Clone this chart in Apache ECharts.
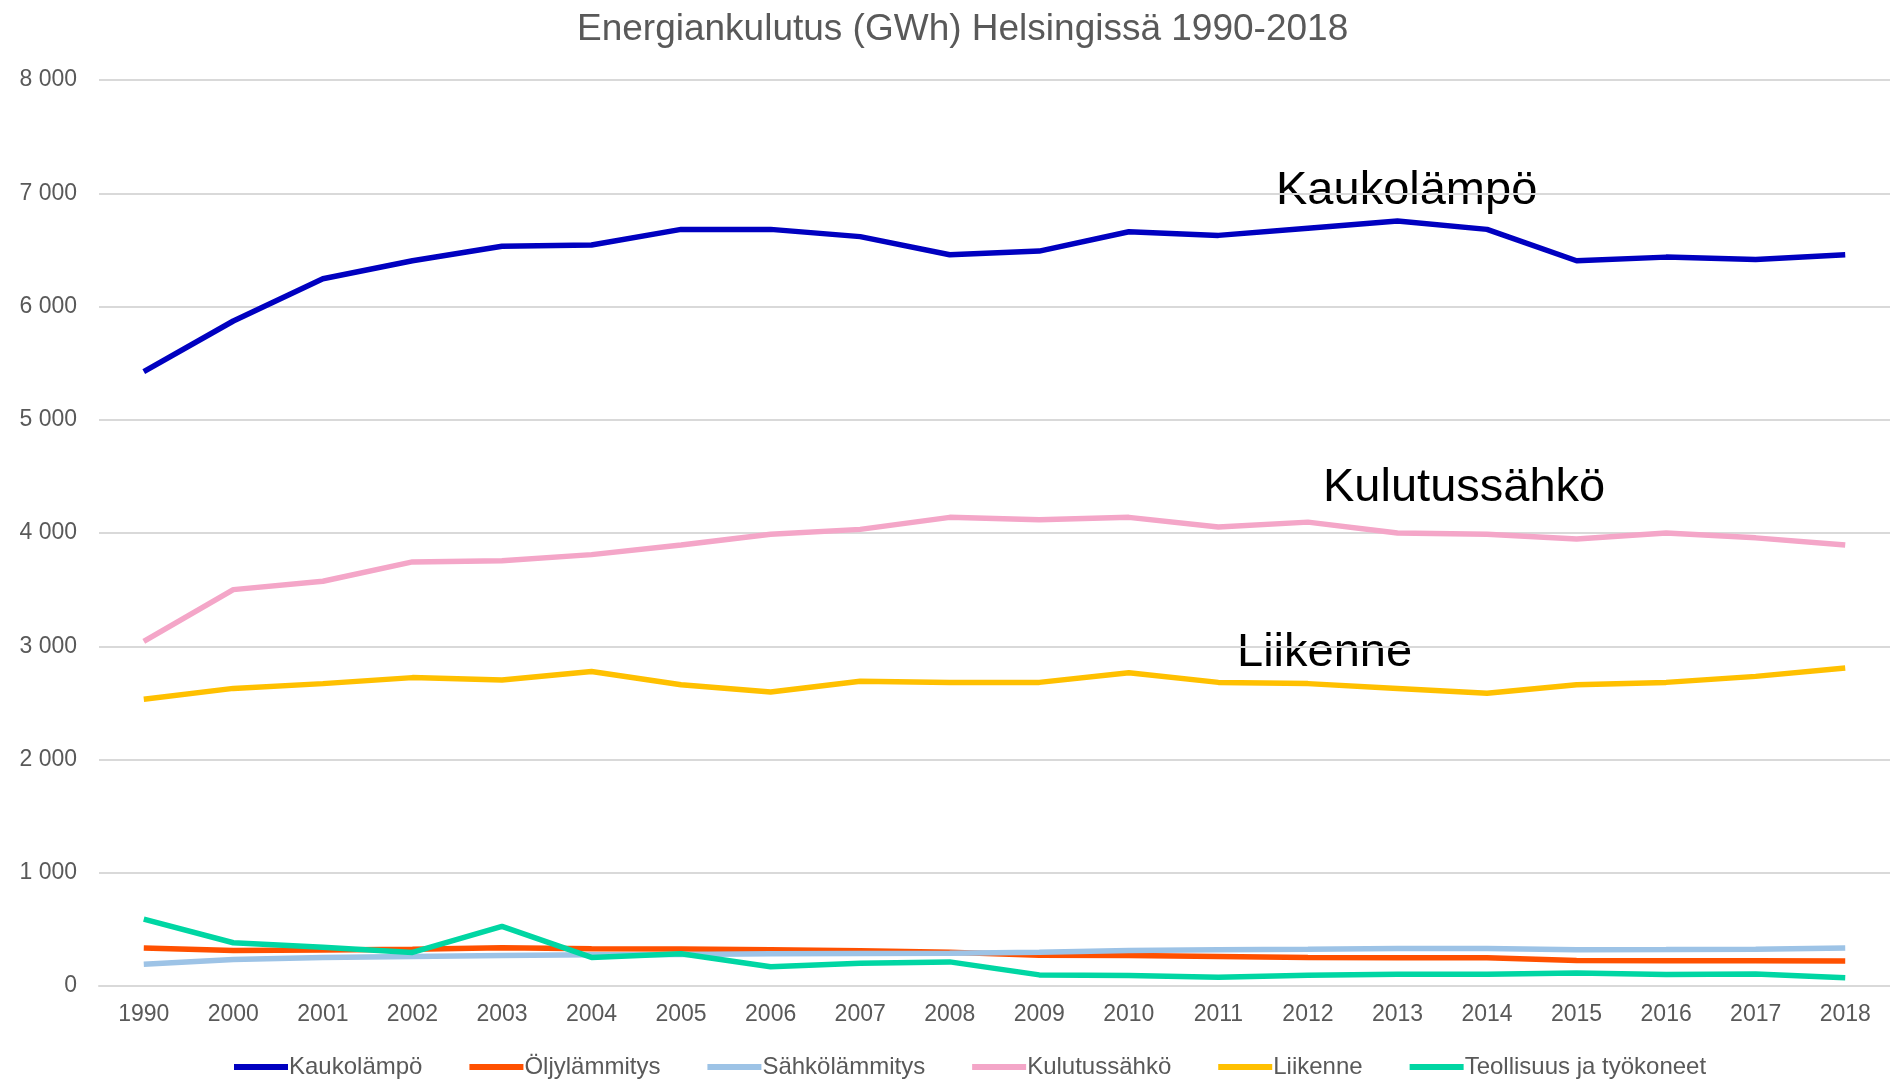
<!DOCTYPE html>
<html>
<head>
<meta charset="utf-8">
<script src="https://cdn.jsdelivr.net/npm/echarts@6/dist/echarts.min.js"></script>
<style>
html,body{margin:0;padding:0;background:#fff;}
#main{width:1890px;height:1080px;}
</style>
</head>
<body>
<div id="main"></div>
<script>
const years = ['1990','2000','2001','2002','2003','2004','2005','2006','2007','2008','2009','2010','2011','2012','2013','2014','2015','2016','2017','2018'];
const kaukolampo = [5425,5872,6245,6404,6532,6543,6681,6681,6617,6457,6489,6660,6628,6691,6755,6681,6404,6436,6415,6457];
const oljylammitys = [335,313,318,325,338,330,326,320,311,299,272,269,260,251,249,249,226,223,222,220];
const sahkolammitys = [192,234,251,260,269,276,278,284,287,290,299,314,320,325,331,331,320,322,325,336];
const kulutussahko = [3043,3500,3574,3745,3755,3809,3894,3989,4032,4138,4117,4138,4053,4096,4000,3989,3947,4000,3957,3894];
const liikenne = [2532,2628,2670,2723,2702,2777,2660,2596,2691,2681,2681,2766,2681,2670,2628,2585,2660,2681,2734,2808];
const teollisuus = [590,382,343,296,527,252,284,170,201,213,98,92,77,95,103,104,115,101,107,73];
const yTicks = {min:0, max:8000, interval:1000};
const seriesNames = ['Kaukolämpö','Öljylämmitys','Sähkölämmitys','Kulutussähkö','Liikenne','Teollisuus ja työkoneet'];
const seriesData = [kaukolampo, oljylammitys, sahkolammitys, kulutussahko, liikenne, teollisuus];
const colors = ['#0000C0','#FF5000','#9DC3E6','#F4A6C8','#FFC000','#00D6A3'];

const chart = echarts.init(document.getElementById('main'));
const font = 'Liberation Sans, Arial, sans-serif';
chart.setOption({
  animation:false,
  textStyle:{fontFamily:font},
  title:{text:'Energiankulutus (GWh) Helsingissä 1990-2018', left:572, top:6,
    textStyle:{fontFamily:font, fontSize:37, fontWeight:'normal', color:'#595959'}},
  grid:{left:99, right:0, top:80, bottom:94},
  legend:{bottom:-4, left:229, itemWidth:54, itemHeight:6, itemGap:47,
    icon:'rect',
    textStyle:{fontFamily:font, fontSize:24, color:'#595959', padding:[0,0,0,-4]},
    data:seriesNames},
  xAxis:{type:'category', data:years, boundaryGap:true,
    axisLine:{lineStyle:{color:'#d9d9d9', width:2}},
    axisTick:{show:false},
    axisLabel:{color:'#595959', fontSize:23, margin:17, fontFamily:font, interval:0}},
  yAxis:{type:'value', min:yTicks.min, max:yTicks.max, interval:yTicks.interval,
    axisLine:{show:false}, axisTick:{show:false},
    splitLine:{lineStyle:{color:'#d9d9d9', width:2}},
    axisLabel:{color:'#595959', fontSize:23, margin:22, fontFamily:font,
      formatter:v=>v>=1000 ? Math.floor(v/1000)+' '+String(v%1000).padStart(3,'0') : String(v)}},
  series:seriesNames.map((n,i)=>({name:n, type:'line', data:seriesData[i], symbol:'none',
    lineStyle:{color:colors[i], width:5.5}, itemStyle:{color:colors[i]}})),
  graphic:[
    {type:'text', left:1276, top:168, style:{text:'Kaukolämpö', fontSize:47, fontFamily:font, fill:'#000'}},
    {type:'text', left:1323, top:465, style:{text:'Kulutussähkö', fontSize:47, fontFamily:font, fill:'#000'}},
    {type:'text', left:1237, top:630, style:{text:'Liikenne', fontSize:47, fontFamily:font, fill:'#000'}}
  ]
});
</script>
</body>
</html>
